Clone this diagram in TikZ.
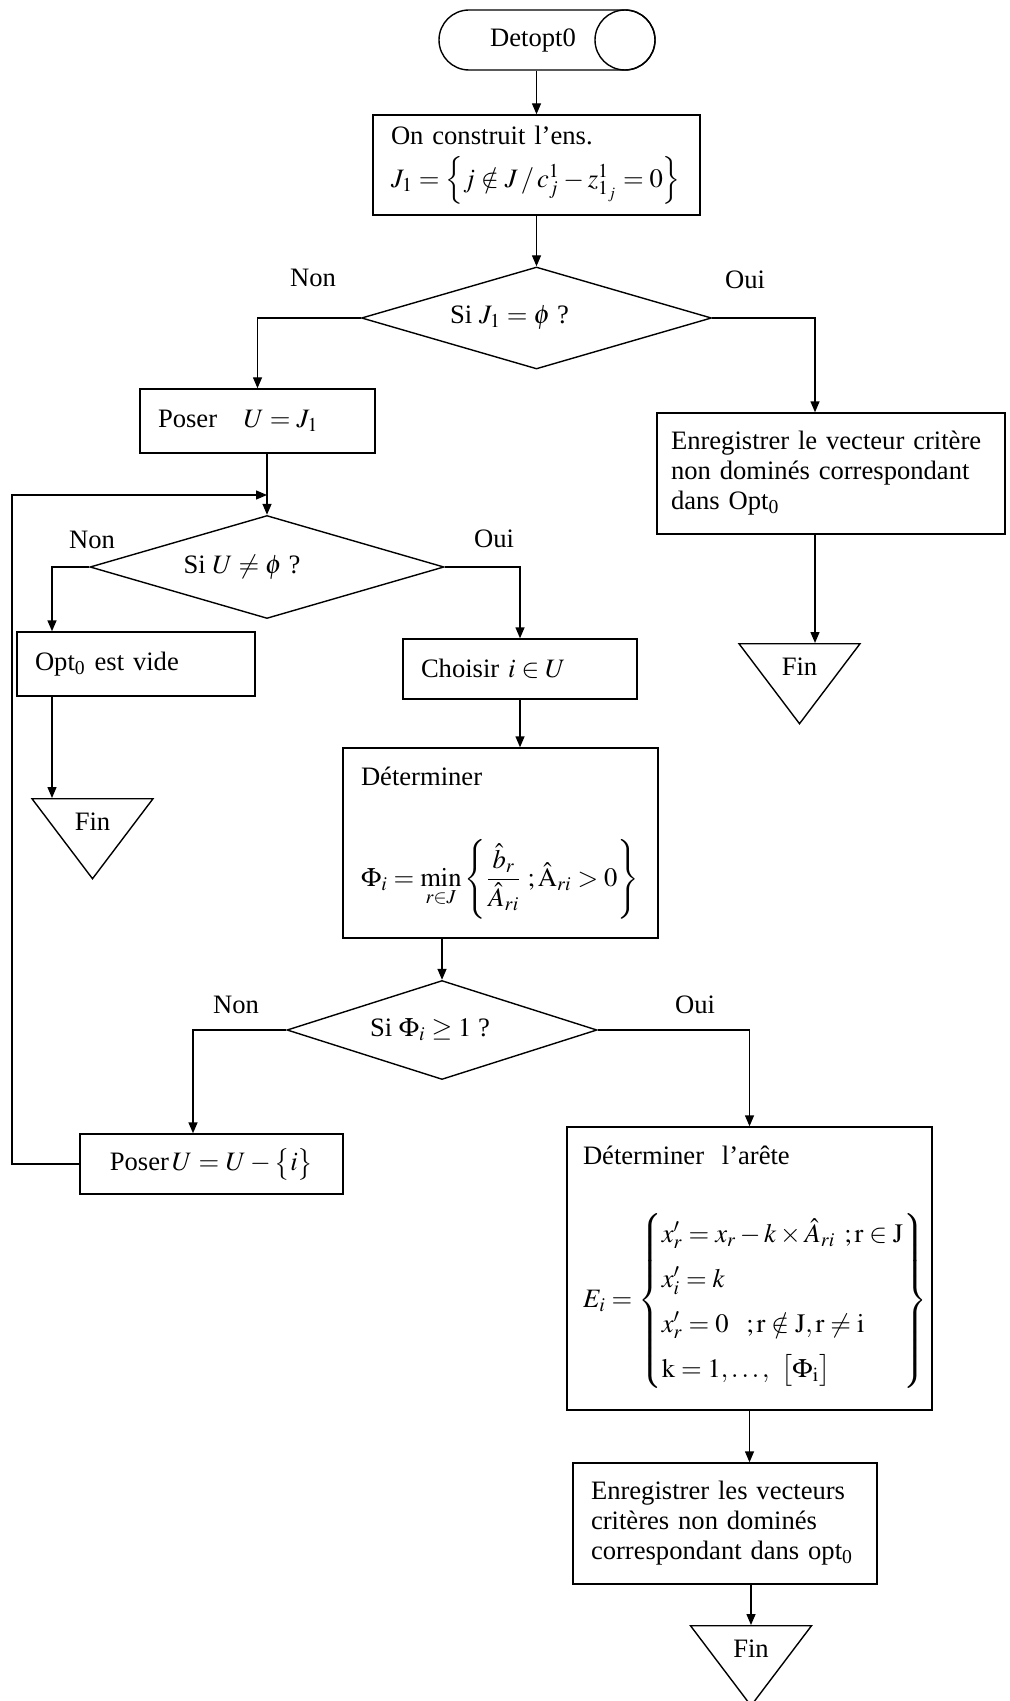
\documentclass[tikz,border=0pt]{standalone}
\usepackage{amsmath}
\usepackage{amssymb}
\usepackage{mathptmx}
\usepackage{fontspec}
\setmainfont{Liberation Serif}
\usetikzlibrary{arrows.meta,positioning,shapes.geometric,shapes.misc}

\begin{document}
\begin{tikzpicture}[
    x=0.5pt, y=-0.5pt,
    font=\fontsize{13.3}{15}\selectfont,
    line width=0.7pt,
    arw/.style={-{Triangle[length=5.5pt,width=4.5pt]}},
    stepbox/.style={
        draw,
        align=left,
        inner xsep=9pt,
        inner ysep=2pt
    },
    decision/.style={
        draw,
        diamond,
        aspect=3.4,
        inner sep=1pt
    },
    finnode/.style={
        draw,
        isosceles triangle,
        shape border rotate=270,
        isosceles triangle stretches,
        minimum width=60.5pt,
        minimum height=40pt,
        inner sep=1pt,
        anchor=north
    },
    answer/.style={inner sep=1pt}
]
\useasboundingbox (0,0) rectangle (1010,1701);

\node[draw, rounded rectangle, minimum width=110pt, minimum height=30pt,
      inner sep=1pt] (start) at (547,40) {Detopt0\hspace*{14pt}};
\node[draw, circle, minimum size=30pt, inner sep=0pt, anchor=east]
  (startcap) at (start.east) {};

\node[stepbox, text width=145.5pt, minimum height=50pt] (constr) at (536.5,165)
  {On construit l’ens.\\[5pt]
   $J_1=\left\{j\notin J\,/\,c_j^1-z_{1_j}^1=0\right\}$};

\node[decision, minimum width=175pt, minimum height=51pt] (qJ) at (536.5,318)
  {Si $J_1=\phi$ ?\hspace*{27pt}};

\node[stepbox, text width=99.5pt, minimum height=32pt] (posU) at (257.5,421)
  {Poser\quad $U=J_1$};

\node[stepbox, inner xsep=7pt, text width=160pt, minimum height=60.5pt] (enr1)
  at (831,473.5)
  {Enregistrer le vecteur critère\\
   non dominés correspondant\\
   dans Opt\textsubscript{0}};

\node[finnode] (fin2) at (799.5,643) {Fin};

\node[decision, minimum width=177pt, minimum height=51.5pt] (qU) at (267,567)
  {Si $U\neq\phi$ ?\hspace*{25pt}};

\node[stepbox, text width=101pt, minimum height=32pt] (vide) at (136,664)
  {Opt\textsubscript{0} est vide};

\node[finnode] (fin1) at (92.5,798) {Fin};

\node[stepbox, text width=99pt, minimum height=30pt] (choisir) at (520,669)
  {Choisir $i\in U$};

\node[stepbox, text width=139.5pt, minimum height=95pt] (detphi) at (500.5,843)
  {Déterminer\\[26pt]
   $\Phi_i=\min\limits_{r\in J}\left\{\dfrac{\hat{b}_r}{\hat{A}_{ri}}\;;\hat{\mathrm{A}}_{ri}>0\right\}$};

\node[decision, minimum width=155pt, minimum height=49.5pt, aspect=3.1] (qPhi)
  at (442,1030) {Si $\Phi_i\geq 1$ ?\hspace*{12pt}};

\node[stepbox, align=center, text width=113.5pt, minimum height=30pt] (posUi)
  at (211.5,1164) {Poser$\,U=U-\bigl\{i\bigr\}$};

\node[stepbox, inner xsep=8pt, text width=166.5pt, minimum height=141.5pt] (arete)
  at (749.5,1268.5)
  {Déterminer~ l’arête\\[22pt]
   \mbox{$E_i=\left\{\def\arraystretch{1.5}\begin{array}{@{}l@{}}
     x'_r=x_r-k\times\hat{A}_{ri}\ ;\mathrm{r}\in\mathrm{J}\\
     x'_i=k\\
     x'_r=0\ \ ;\mathrm{r}\notin\mathrm{J},\mathrm{r}\neq\mathrm{i}\\
     \mathrm{k}=1,\ldots,\ \bigl[\Phi_\mathrm{i}\bigr]
   \end{array}\right\}$}};

\node[stepbox, text width=134pt, minimum height=60.5pt] (enr2) at (725,1523.5)
  {Enregistrer les vecteurs\\
   critères non dominés\\
   correspondant dans opt\textsubscript{0}};

\node[finnode] (fin3) at (751,1625) {Fin};

\node[answer] (nonJ) at (313,278) {Non};
\node[answer] (ouiJ) at (745,280) {Oui};
\node[answer] (nonU) at (92,540) {Non};
\node[answer] (ouiU) at (494,539) {Oui};
\node[answer] (nonPhi) at (236,1005) {Non};
\node[answer] (ouiPhi) at (695,1005) {Oui};

\coordinate (cJ) at (815,318);
\coordinate (cU) at (52,567);
\coordinate (cPhi) at (193,1030);
\coordinate (back) at (12,495);

\draw[arw] (start.south -| constr.north) -- (constr.north);
\draw[arw] (constr.south) -- (qJ.north);
\draw[arw] (qJ.west) -| (posU.north);
\draw[arw] (qJ.east) -- (cJ) -- (cJ |- enr1.north);
\draw[arw] (enr1.south -| cJ) -- (fin2.north -| cJ);
\draw[arw] (posU.south -| qU.north) -- (qU.north);
\draw[arw] (posUi.west) -| (back) -- (back -| qU.north);
\draw[arw] (qU.west) -- (cU) -- (cU |- vide.north);
\draw[arw] (vide.south -| cU) -- (fin1.north -| cU);
\draw[arw] (qU.east) -| (choisir.north);
\draw[arw] (choisir.south) -- (choisir.south |- detphi.north);
\draw[arw] (detphi.south -| qPhi.north) -- (qPhi.north);
\draw[arw] (qPhi.west) -- (cPhi) -- (cPhi |- posUi.north);
\draw[arw] (qPhi.east) -| (arete.north);
\draw[arw] (arete.south) -- (arete.south |- enr2.north);
\draw[arw] (enr2.south -| fin3.north) -- (fin3.north);

\end{tikzpicture}
\end{document}
